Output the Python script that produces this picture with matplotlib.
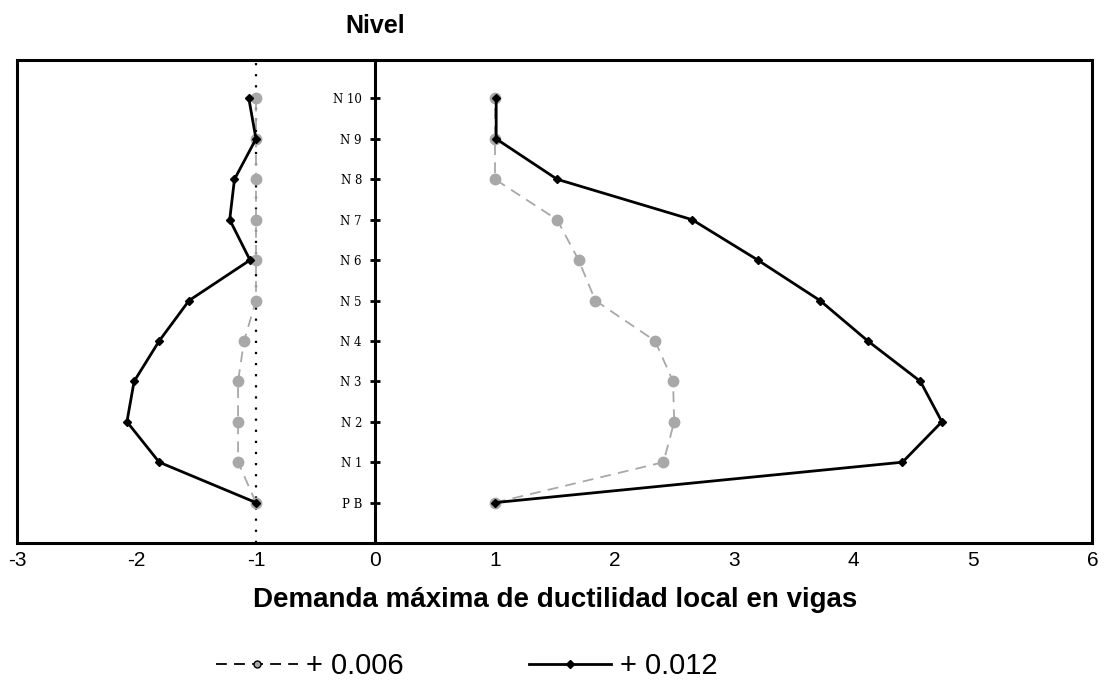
import matplotlib.pyplot as plt
from matplotlib.patches import Rectangle

# levels (bottom to top)
niveles = ["P B", "N 1", "N 2", "N 3", "N 4", "N 5", "N 6", "N 7", "N 8", "N 9", "N 10"]
pos_nivel = list(range(len(niveles)))

# drift +0.006 (grey, dashed)
izq_006 = [-1.0, -1.15, -1.15, -1.15, -1.10, -1.0, -1.0, -1.0, -1.0, -1.0, -1.0]
der_006 = [1.0, 2.41, 2.50, 2.49, 2.34, 1.84, 1.70, 1.52, 1.0, 1.0, 1.0]

# drift +0.012 (black, solid)
izq_012 = [-1.0, -1.81, -2.08, -2.02, -1.81, -1.56, -1.05, -1.22, -1.18, -1.0, -1.06]
der_012 = [1.0, 4.41, 4.74, 4.56, 4.12, 3.72, 3.20, 2.65, 1.52, 1.01, 1.01]

xticks = [-3, -2, -1, 0, 1, 2, 3, 4, 5, 6]

fig = plt.figure(figsize=(11.11, 6.9), dpi=100)
ax = fig.add_axes([0.0153, 0.213, 0.968, 0.700])

GRIS = '#a8a8a8'
for xs in (izq_006, der_006):
    ax.plot(xs, pos_nivel, color=GRIS, ls=(0, (6, 4)), lw=1.3,
            marker='o', ms=7.5, mfc=GRIS, mec=GRIS, zorder=3)
for xs in (izq_012, der_012):
    ax.plot(xs, pos_nivel, color='black', lw=2, marker='D', ms=4.5, zorder=4)

# dotted reference at -1
ax.axvline(-1, color='black', ls=(0, (1, 4)), lw=1.6, zorder=2)

ax.set_xlim(-3, 6)
ax.set_ylim(-1, 10.95)

# vertical axis at x = 0
ax.spines['left'].set_position(('data', 0))
ax.spines['left'].set_linewidth(2.2)
for s in ('top', 'right', 'bottom'):
    ax.spines[s].set_visible(False)
ax.add_patch(Rectangle((0, 0), 1, 1, transform=ax.transAxes, fill=False,
                       lw=2.2, ec='black', clip_on=False, zorder=5))

ax.set_yticks(pos_nivel)
ax.set_yticklabels(niveles, family='DejaVu Serif', fontsize=8.5)
ax.tick_params(axis='y', direction='inout', length=7.5, width=2, pad=6)

ax.set_xticks(xticks)
ax.set_xticklabels([str(v) for v in xticks], family='Liberation Sans', fontsize=15)
ax.tick_params(axis='x', length=0, pad=6)

ax.set_xlabel('Demanda máxima de ductilidad local en vigas', family='Liberation Sans',
              fontsize=20, fontweight='bold', labelpad=12)
ax.text(0, 1.045, 'Nivel', transform=ax.get_xaxis_transform(), ha='center', va='bottom',
        family='Liberation Sans', fontsize=18, fontweight='bold')

h1, = ax.plot([], [], color='black', ls=(0, (6, 4)), lw=1.3, marker='o', ms=5, mfc=GRIS)
h2, = ax.plot([], [], color='black', lw=2, marker='D', ms=4)
fig.legend([h1, h2], ['+ 0.006', '+ 0.012'], loc='center', bbox_to_anchor=(0.42, 0.035),
           ncol=2, frameon=False, prop={'family': 'Liberation Sans', 'size': 21},
           handlelength=2.8, columnspacing=4.3, handletextpad=0.3)

plt.savefig('out.png', dpi=100)
